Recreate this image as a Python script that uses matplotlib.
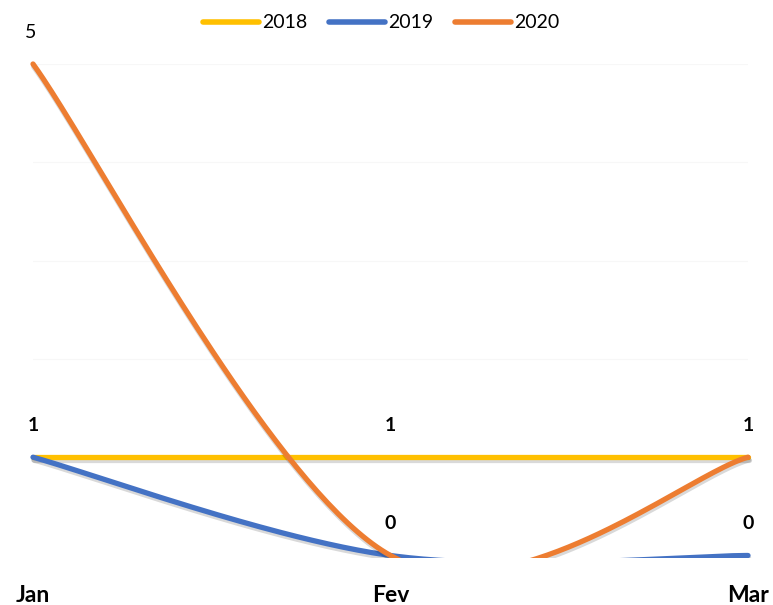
import numpy as np
import matplotlib
matplotlib.use("Agg")
import matplotlib.pyplot as plt
import matplotlib.patheffects as pe
from matplotlib.patches import Rectangle

months = ["Jan", "Fev", "Mar"]
series_names = ["2018", "2019", "2020"]
v2018 = [1, 1, 1]
v2019 = [1, 0, 0]
v2020 = [5, 0, 1]
colors = ["#FFC000", "#4472C4", "#ED7D31"]

plt.rcParams['font.family'] = ['Lato', 'DejaVu Sans']


def smooth(xs, ys, n=80):
    """Catmull-Rom style Bezier smoothing (like spreadsheet 'smoothed line')."""
    P = np.column_stack([xs, ys]).astype(float)
    out = []
    m = len(P)
    for i in range(m - 1):
        p0 = P[max(i - 1, 0)]
        p1 = P[i]
        p2 = P[i + 1]
        p3 = P[min(i + 2, m - 1)]
        c1 = p1 + (p2 - p0) / 6.0
        c2 = p2 - (p3 - p1) / 6.0
        t = np.linspace(0, 1, n)[:, None]
        seg = ((1 - t) ** 3) * p1 + 3 * ((1 - t) ** 2) * t * c1 + 3 * (1 - t) * t ** 2 * c2 + t ** 3 * p2
        out.append(seg if i == 0 else seg[1:])
    c = np.vstack(out)
    return c[:, 0], c[:, 1]


W, H = 773, 605
y0px, y5px = 555.5, 64
fig = plt.figure(figsize=(W / 100, H / 100), dpi=100)
ax = fig.add_axes([33 / W, (H - y0px) / H, 715 / W, (y0px - y5px) / H])
ax.set_xlim(0, 2)
ax.set_ylim(0, 5)

x = np.arange(len(months))
clip = Rectangle((-0.05, -2.6 / (y0px - y5px)), 1.1, 1.3, transform=ax.transAxes)
handles = []
for name, vals, col in zip(series_names, [v2018, v2019, v2020], colors):
    sx, sy = smooth(x, vals)
    ln, = ax.plot(sx, sy, color=col, lw=3.8, solid_capstyle='round', label=name,
                  path_effects=[pe.SimpleLineShadow(offset=(0.5, -2), shadow_color='k', alpha=0.15),
                                pe.Normal()])
    ln.set_clip_path(clip)
    handles.append(ln)

for yv in range(1, 6):
    ax.axhline(yv, color='#f7f7f7', lw=0.8, zorder=0)

# data labels
lab = dict(textcoords='offset points', ha='center', va='center', color='black')
ax.annotate(str(v2020[0]), (x[0], v2020[0]), xytext=(-2, 23), fontsize=14, **lab)
for i in range(3):
    ax.annotate(str(v2018[i]), (x[i], v2018[i]), xytext=(0, 23), fontsize=14, fontweight='bold', **lab)
for i in (1, 2):
    ax.annotate(str(v2019[i]), (x[i], v2019[i]), xytext=(0, 23), fontsize=14, fontweight='bold', **lab)

ax.set_xticks(x)
ax.set_xticklabels(months, fontsize=16.5, fontweight='bold')
ax.tick_params(axis='x', length=0, pad=21)
ax.set_yticks([])
for s in ax.spines.values():
    s.set_visible(False)

leg = fig.legend(handles=handles, labels=series_names, loc='center', bbox_to_anchor=(381 / W, 1 - 23 / H),
                 ncol=3, frameon=False, fontsize=14, handlelength=2.9, handletextpad=0.15,
                 columnspacing=1.1)
for h in leg.get_lines():
    h.set_linewidth(4)
    h.set_path_effects([])

fig.savefig("out.png", dpi=100)
